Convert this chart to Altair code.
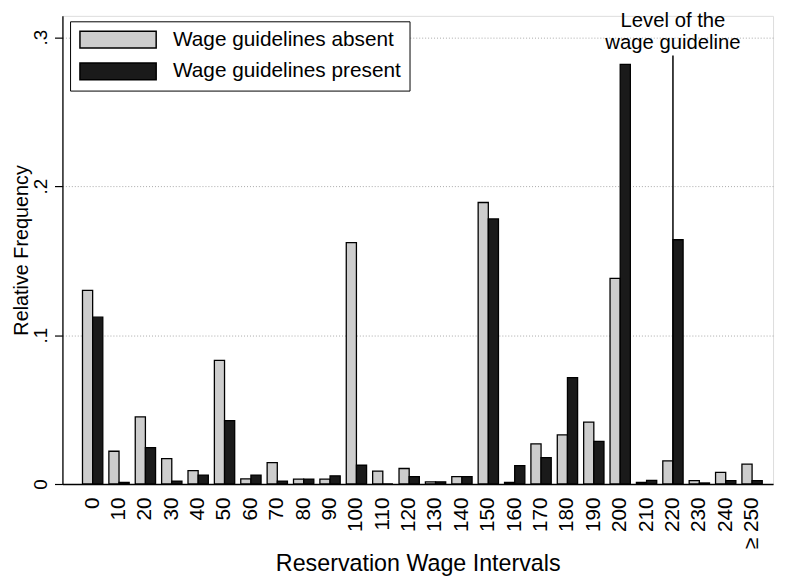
import altair as alt
import pandas as pd

categories = ["0", "10", "20", "30", "40", "50", "60", "70", "80", "90",
              "100", "110", "120", "130", "140", "150", "160", "170", "180", "190",
              "200", "210", "220", "230", "240", "≥ 250"]
absent = [0.130, 0.022, 0.045, 0.017, 0.009, 0.083, 0.0035, 0.0144, 0.0033, 0.0033,
          0.162, 0.0087, 0.0104, 0.0015, 0.005, 0.189, 0.001, 0.027, 0.033, 0.0415,
          0.138, 0.001, 0.0155, 0.0022, 0.0078, 0.0133]
present = [0.112, 0.001, 0.0244, 0.002, 0.006, 0.0426, 0.006, 0.002, 0.0033, 0.0055,
           0.0126, 0.0, 0.005, 0.0015, 0.005, 0.178, 0.0124, 0.0177, 0.0714, 0.0286,
           0.2817, 0.0025, 0.164, 0.0007, 0.0022, 0.0022]
series_names = ["Wage guidelines absent", "Wage guidelines present"]
series_colors = ["#cdcdcd", "#1a1a1a"]
ytick_values = [0, 0.1, 0.2, 0.3]
ytick_labels = ["0", ".1", ".2", ".3"]
guideline_category = "220"
guideline_top = 0.2877
annotation_text = ["Level of the", "wage guideline"]

FONT = "Liberation Sans"

rows = []
for c, a, p in zip(categories, absent, present):
    rows.append({"cat": c, "series": series_names[0], "value": a})
    rows.append({"cat": c, "series": series_names[1], "value": p})
df = pd.DataFrame(rows)

ylabel_expr = " : ".join(
    [f"datum.value < {v + 0.01} ? '{l}'" for v, l in zip(ytick_values[:-1], ytick_labels[:-1])]
    + [f"'{ytick_labels[-1]}'"]
)

xscale = alt.Scale(domain=categories, paddingInner=0.23, paddingOuter=0.585, align=0.65, round=False)
yscale = alt.Scale(domain=[0, 0.3143], nice=False, zero=True)

# wide legend swatch (77 x 17 px): symbol size 17^2, path in units of 8.5 px
swatch_path = "M-1,-1H8.06V1H-1Z"

bars = alt.Chart(df).mark_bar(stroke="black", strokeWidth=1.3).encode(
    x=alt.X("cat:N", scale=xscale, sort=categories,
            axis=alt.Axis(title="Reservation Wage Intervals", labelAngle=270, labelAlign="right",
                          labelBaseline="middle", labelPadding=13, ticks=False,
                          labelFont=FONT, labelFontSize=21, labelColor="black",
                          titleFont=FONT, titleFontSize=23.5, titleFontWeight="normal", titleColor="black",
                          titleY=80, titleBaseline="middle",
                          domainColor="black", domainWidth=1.3, grid=False)),
    xOffset=alt.XOffset("series:N", sort=series_names),
    y=alt.Y("value:Q", scale=yscale,
            axis=alt.Axis(title="Relative Frequency", values=ytick_values, labelExpr=ylabel_expr,
                          labelAngle=270, labelAlign="center", labelBaseline="alphabetic",
                          labelPadding=8, tickSize=8, tickColor="black", tickWidth=1.2,
                          labelFont=FONT, labelFontSize=19, labelColor="black",
                          titleFont=FONT, titleFontSize=20, titleFontWeight="normal", titleColor="black",
                          titleAngle=270, titleX=-51, titleBaseline="top",
                          domainColor="black", domainWidth=1.3,
                          grid=True, gridColor="#a8a8a8", gridDash=[1, 2], gridWidth=1)),
    color=alt.Color("series:N", scale=alt.Scale(domain=series_names, range=series_colors),
                    legend=alt.Legend(title=None, orient="none", legendX=7.7, legendY=5.5,
                                      symbolType=swatch_path, symbolSize=289,
                                      symbolStrokeColor="black", symbolStrokeWidth=1.5,
                                      labelFont=FONT, labelFontSize=21, labelColor="black",
                                      labelOffset=75, labelLimit=400, padding=8,
                                      strokeColor="black", fillColor="white", rowPadding=9)),
)

rule_df = pd.DataFrame({"cat": [guideline_category], "bottom": [0.0], "top": [guideline_top],
                        "label": ["\n".join(annotation_text)]})
rule = alt.Chart(rule_df).mark_rule(color="black", strokeWidth=1.5).encode(
    x=alt.X("cat:N", scale=xscale, sort=categories),
    y=alt.Y("bottom:Q", scale=yscale),
    y2="top:Q",
)

text = alt.Chart(rule_df).mark_text(font=FONT, fontSize=20.5, color="black", align="center",
                                    baseline="alphabetic", lineBreak="\n", lineHeight=22, dy=-29).encode(
    x=alt.X("cat:N", scale=xscale, sort=categories),
    y=alt.Y("top:Q", scale=yscale),
    text="label:N",
)

chart = alt.layer(bars, rule, text).properties(
    width=718, height=473,
    autosize=alt.AutoSizeParams(type="none"),
    padding={"left": 55, "top": 5, "right": 4, "bottom": 90},
).configure_view(stroke=None).configure(background="white")

chart.save("out.html", embed_options={"renderer": "svg", "actions": False})
